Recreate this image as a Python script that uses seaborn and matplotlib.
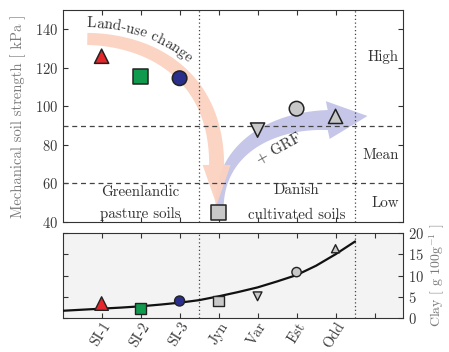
import numpy as np
import pandas as pd
import matplotlib
matplotlib.use("Agg")
import matplotlib.pyplot as plt
import matplotlib.transforms as mtrans
import seaborn as sns
from matplotlib.patches import Polygon
from matplotlib.font_manager import FontProperties

# ---------------- data ----------------
sites = ["SI-1", "SI-2", "SI-3", "Jyn", "Var", "Est", "Odd"]
strength = [126.0, 115.4, 114.6, 44.8, 87.7, 98.8, 94.8]      # kPa
clay = [3.4, 2.2, 4.0, 4.0, 5.1, 10.8, 16.3]                   # g 100g-1
curve_x = [0.0, 0.5, 1.0, 1.5, 2.0, 2.5, 3.0, 3.5, 4.0, 4.5, 5.0, 5.5, 6.0, 6.5, 7.0, 7.5]
curve_y = [1.7, 1.95, 2.2, 2.45, 2.75, 3.15, 3.6, 4.2, 5.1, 6.1, 7.2, 8.6, 10.1, 12.3, 15.0, 18.0]
strength_ticks = [40, 60, 80, 100, 120, 140]
clay_ticks = [0, 5, 10, 15, 20]
class_bounds = [60, 90]
class_labels = ["Low", "Mean", "High"]

# ---------------- style ----------------
sns.set_theme(style="ticks")
plt.rcParams["font.family"] = ["cmr10", "DejaVu Serif"]
plt.rcParams["mathtext.fontset"] = "cm"
plt.rcParams["axes.unicode_minus"] = False
plt.rcParams["axes.formatter.use_mathtext"] = True

markers = {"SI-1": "^", "SI-2": "s", "SI-3": "o", "Jyn": "s", "Var": "v", "Est": "o", "Odd": "^"}
palette = {"SI-1": "#e5262b", "SI-2": "#0f9a4e", "SI-3": "#2a2e8c", "Jyn": "#c8c8c8",
           "Var": "#c8c8c8", "Est": "#c8c8c8", "Odd": "#c8c8c8"}
top_sizes = {"SI-1": 105, "SI-2": 120, "SI-3": 110, "Jyn": 110, "Var": 105, "Est": 110, "Odd": 105}
bot_sizes = {"SI-1": 95, "SI-2": 60, "SI-3": 52, "Jyn": 55, "Var": 40, "Est": 45, "Odd": 34}

TXT = "#333333"
SPINE = "#333333"
XLIM = (0.01, 8.73)
FS = 10.8      # annotation text
TFS = 10.5     # tick labels / axis labels

fig = plt.figure(figsize=(4.49, 3.52), dpi=100)
ax1 = fig.add_axes([63 / 449, 1 - 222 / 352, 340 / 449, 212 / 352])
ax2 = fig.add_axes([63 / 449, 1 - 318 / 352, 340 / 449, 85 / 352])

pos = np.arange(1, len(sites) + 1)
df = pd.DataFrame({"site": sites, "pos": pos, "strength": strength, "clay": clay})
dcurve = pd.DataFrame({"x": curve_x, "y": curve_y})

# ---------------- top panel ----------------
ax1.set_xlim(*XLIM)
ax1.set_ylim(40, 150)
ax1.set_facecolor("white")
for b in class_bounds:
    ax1.axhline(b, color="#444444", lw=0.9, ls=(0, (4, 3)), zorder=3)
for v in [3.5, 7.5]:
    ax1.axvline(v, color="#444444", lw=0.9, ls=(0, (1, 2)), zorder=3)
    ax2.axvline(v, color="#444444", lw=0.9, ls=(0, (1, 2)), zorder=3)

fig.canvas.draw()
renderer = fig.canvas.get_renderer()


def cubic(P, n=300):
    t = np.linspace(0, 1, n)[:, None]
    return ((1 - t) ** 3) * P[0] + 3 * ((1 - t) ** 2) * t * P[1] + 3 * (1 - t) * t ** 2 * P[2] + t ** 3 * P[3]


def band(ax, ctrl, tip, w0, w1, hw, color, z, alpha=1.0):
    T = ax.transData
    P = T.transform(np.asarray(ctrl, float))
    tipd = T.transform(np.asarray(tip, float))
    c = cubic(P)
    g = np.gradient(c, axis=0)
    g /= np.linalg.norm(g, axis=1)[:, None]
    nrm = np.column_stack([-g[:, 1], g[:, 0]])
    w = (np.linspace(w0, w1, len(c)) / 2)[:, None]
    L = c + nrm * w
    R = c - nrm * w
    d = tipd - c[-1]
    d /= np.linalg.norm(d)
    ne = np.array([-d[1], d[0]])
    poly = np.vstack([L, c[-1] + ne * hw / 2, tipd, c[-1] - ne * hw / 2, R[::-1]])
    ax.add_patch(Polygon(T.inverted().transform(poly), closed=True, fc=color, ec="none",
                         zorder=z, alpha=alpha))
    return c, nrm, w


# lavender "+GRF" arrow (drawn first)
band(ax1, [(4.03, 48.8), (4.03, 77.4), (5.33, 92.9), (6.80, 92.9)], (7.82, 95.0),
     8, 20, 38, "#c6c6e9", 1)
# salmon "land-use change" arrow
c, nrm, w = band(ax1, [(0.633, 135.0), (2.256, 134.4), (3.95, 116.3), (3.95, 69.6)],
                 (3.95, 48.8), 12, 15, 28, "#fbd2c0", 2, alpha=0.95)

# text along the salmon arrow
prop = FontProperties(family="cmr10", size=FS)


def tw(s):
    return renderer.get_text_width_height_descent(s, prop, ismath=False)[0]


off = c + nrm * (w + 5.5)
seg = np.linalg.norm(np.diff(off, axis=0), axis=1)
arc = np.concatenate([[0], np.cumsum(seg)])
go = np.gradient(off, axis=0)
ang = np.degrees(np.arctan2(go[:, 1], go[:, 0]))
label = "Land-use change"
s0 = -1.0
inv = ax1.transData.inverted()
for i, ch in enumerate(label):
    if ch == " ":
        continue
    sc = s0 + tw(label[: i + 1]) - tw(ch) / 2
    px = np.interp(sc, arc, off[:, 0])
    py = np.interp(sc, arc, off[:, 1])
    a = np.interp(sc, arc, ang)
    xd, yd = inv.transform((px, py))
    ax1.text(xd, yd, ch, fontproperties=prop, color=TXT, rotation=a,
             rotation_mode="anchor", ha="center", va="baseline", zorder=4)

ax1.text(5.54, 78.4, "+ GRF", fontsize=FS, color=TXT, rotation=29, ha="center", va="center",
         rotation_mode="anchor", zorder=4)

sns.scatterplot(data=df, x="pos", y="strength", hue="site", style="site", size="site",
                markers=markers, palette=palette, sizes=top_sizes, edgecolor="#222222",
                linewidth=1.1, legend=False, ax=ax1, zorder=5)

ax1.text(2.0, 55.6, "Greenlandic", fontsize=FS, color=TXT, ha="center", va="center", zorder=4)
ax1.text(2.0, 44.4, "pasture soils", fontsize=FS, color=TXT, ha="center", va="center", zorder=4)
ax1.text(6.0, 56.4, "Danish", fontsize=FS, color=TXT, ha="center", va="center", zorder=4)
ax1.text(6.0, 43.6, "cultivated soils", fontsize=FS, color=TXT, ha="center", va="center", zorder=4)
for lab, yv in zip(class_labels, [49.8, 74.8, 125.6]):
    ax1.text(8.63, yv, lab, fontsize=FS, color=TXT, ha="right", va="center", zorder=4)

ax1.set_yticks(strength_ticks)
ax1.set_xticks(pos)
ax1.tick_params(direction="in", top=True, right=True, length=3.5, width=0.8,
                labelbottom=False, labelsize=TFS, labelcolor="#3a3a3a", color=SPINE)
ax1.set_xlabel("")
ax1.set_ylabel("Mechanical soil strength [ kPa ]", fontsize=TFS, color="#7a7a7a", labelpad=6)

# ---------------- bottom panel ----------------
ax2.set_facecolor("#f3f3f3")
ax2.set_xlim(*XLIM)
ax2.set_ylim(0, 20)
sns.lineplot(data=dcurve, x="x", y="y", color="#111111", lw=1.6, ax=ax2, zorder=4)
sns.scatterplot(data=df, x="pos", y="clay", hue="site", style="site", size="site",
                markers=markers, palette=palette, sizes=bot_sizes, edgecolor="#222222",
                linewidth=1.0, legend=False, ax=ax2, zorder=5)
ax2.set_xticks(list(pos) + [len(sites) + 1])
ax2.set_xticklabels(sites + [""], rotation=58, ha="right", va="center",
                    rotation_mode="anchor", fontsize=9.3)
ax2.set_yticks(clay_ticks)
ax2.tick_params(direction="in", top=True, right=True, left=True, length=3.5, width=0.8,
                labelleft=False, labelright=True, labelsize=TFS, labelcolor="#3a3a3a",
                color=SPINE)
ax2.tick_params(axis="y", labelsize=TFS)
ax2.tick_params(axis="x", pad=4)
ax2.set_xlabel("")
ax2.yaxis.set_label_position("right")
ax2.set_ylabel("Clay [ g 100g$^{-1}$ ]", fontsize=10, color="#7a7a7a", labelpad=3)

# shift rotated labels slightly right, like the reference
shift = mtrans.ScaledTranslation(6 / 100, 0, fig.dpi_scale_trans)
for lab in ax2.get_xticklabels():
    lab.set_transform(lab.get_transform() + shift)

for ax in (ax1, ax2):
    for s in ax.spines.values():
        s.set_color(SPINE)
        s.set_linewidth(0.8)

fig.savefig("out.png", dpi=100)
